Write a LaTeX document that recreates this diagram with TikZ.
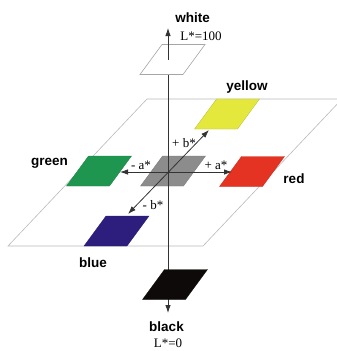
\documentclass[tikz,border=0pt]{standalone}
\usepackage{fontspec}
\setmainfont{Liberation Serif}
\newfontfamily\labelfont{Liberation Sans}
\usetikzlibrary{arrows.meta,positioning,calc}

\definecolor{labyellow}{RGB}{228,232,60}
\definecolor{labgreen}{RGB}{30,150,80}
\definecolor{labred}{RGB}{228,50,35}
\definecolor{labblue}{RGB}{45,30,125}
\definecolor{labgray}{RGB}{140,140,140}
\definecolor{labblack}{RGB}{15,10,10}

\tikzset{
  swatch/.pic={\path[pic actions] (-10.5,-15) -- ++(43,0) -- ++(-22,30) -- ++(-43,0) -- cycle;},
  plane/.style={draw=gray!55, line width=0.6pt},
  axisline/.style={draw=black!80, line width=0.8pt},
  colname/.style={font=\labelfont\bfseries\fontsize{13.5}{16}\selectfont},
  axlabel/.style={font=\fontsize{13}{15}\selectfont, inner sep=1pt},
}

\begin{document}
\begin{tikzpicture}[x=1pt, y=-1pt, >={Latex[length=8pt,width=5.5pt]}]
  \useasboundingbox (0,0) rectangle (337,351);

  % centre and axis ends
  \coordinate (O) at (168,172);
  \coordinate (plusa) at (232,172);
  \coordinate (minusa) at (120,172);
  \coordinate (plusb) at (209,130);
  \coordinate (minusb) at (128,214);
  \coordinate (Ltop) at (168,28);
  \coordinate (Lbot) at (168,313);
  \coordinate (wmid) at (168,60);
  \coordinate (wbase) at (168,74.5);

  % swatch centres
  \coordinate (cwhite) at (172.5,59.5);
  \coordinate (cyellow) at (227,114);
  \coordinate (cgray) at (173,171);
  \coordinate (cgreen) at (99,171);
  \coordinate (cred) at (252,171.5);
  \coordinate (cblue) at (116.5,231);
  \coordinate (cblack) at (175,284.5);

  % a*b* plane
  \draw[plane] (147,99) -- (342,99) -- (203,246) -- (8,246) -- cycle;

  % colour swatches
  \pic[fill=labgray, draw=labgray!85!black, line width=0.3pt] at (cgray) {swatch};
  \pic[fill=labyellow, draw=labyellow!80!black, line width=0.3pt] at (cyellow) {swatch};
  \pic[fill=labgreen, draw=labgreen!85!black, line width=0.3pt] at (cgreen) {swatch};
  \pic[fill=labred, draw=labred!85!black, line width=0.3pt] at (cred) {swatch};
  \pic[fill=labblue, draw=labblue!85!black, line width=0.3pt] at (cblue) {swatch};

  % L* axis (lower part)
  \draw[axisline,->] (wbase) -- (Lbot);

  % a* and b* axes
  \draw[axisline,<->] (minusa) -- (plusa);
  \draw[axisline,<->] (minusb) -- (plusb);

  \node[axlabel] (na1) at (141,165) {- a*};
  \node[axlabel] (na2) at (216,165) {+ a*};
  \node[axlabel] (nb1) at (184,143) {+ b*};
  \node[axlabel] (nb2) at (153,205) {- b*};

  % white and black ends
  \pic[fill=white, draw=gray!70, line width=0.6pt] at (cwhite) {swatch};
  \draw[axisline,->] (wmid) -- (Ltop);
  \pic[fill=labblack, draw=labblack, line width=0.3pt] at (cblack) {swatch};

  % names
  \node[colname] (tyellow) at (247,87) {yellow};
  \node[colname] (tgreen) at (49.5,163) {green};
  \node[colname] (tred) at (294,179) {red};
  \node[colname] (tblue) at (93,263) {blue};
  \node[colname] (twhite) at (192.5,18) {white};
  \node[axlabel] (lwhite) at (201,36) {L*=100};
  \node[colname] (tblack) at (166.5,327) {black};
  \node[axlabel] (lblack) at (168,343) {L*=0};
\end{tikzpicture}
\end{document}
